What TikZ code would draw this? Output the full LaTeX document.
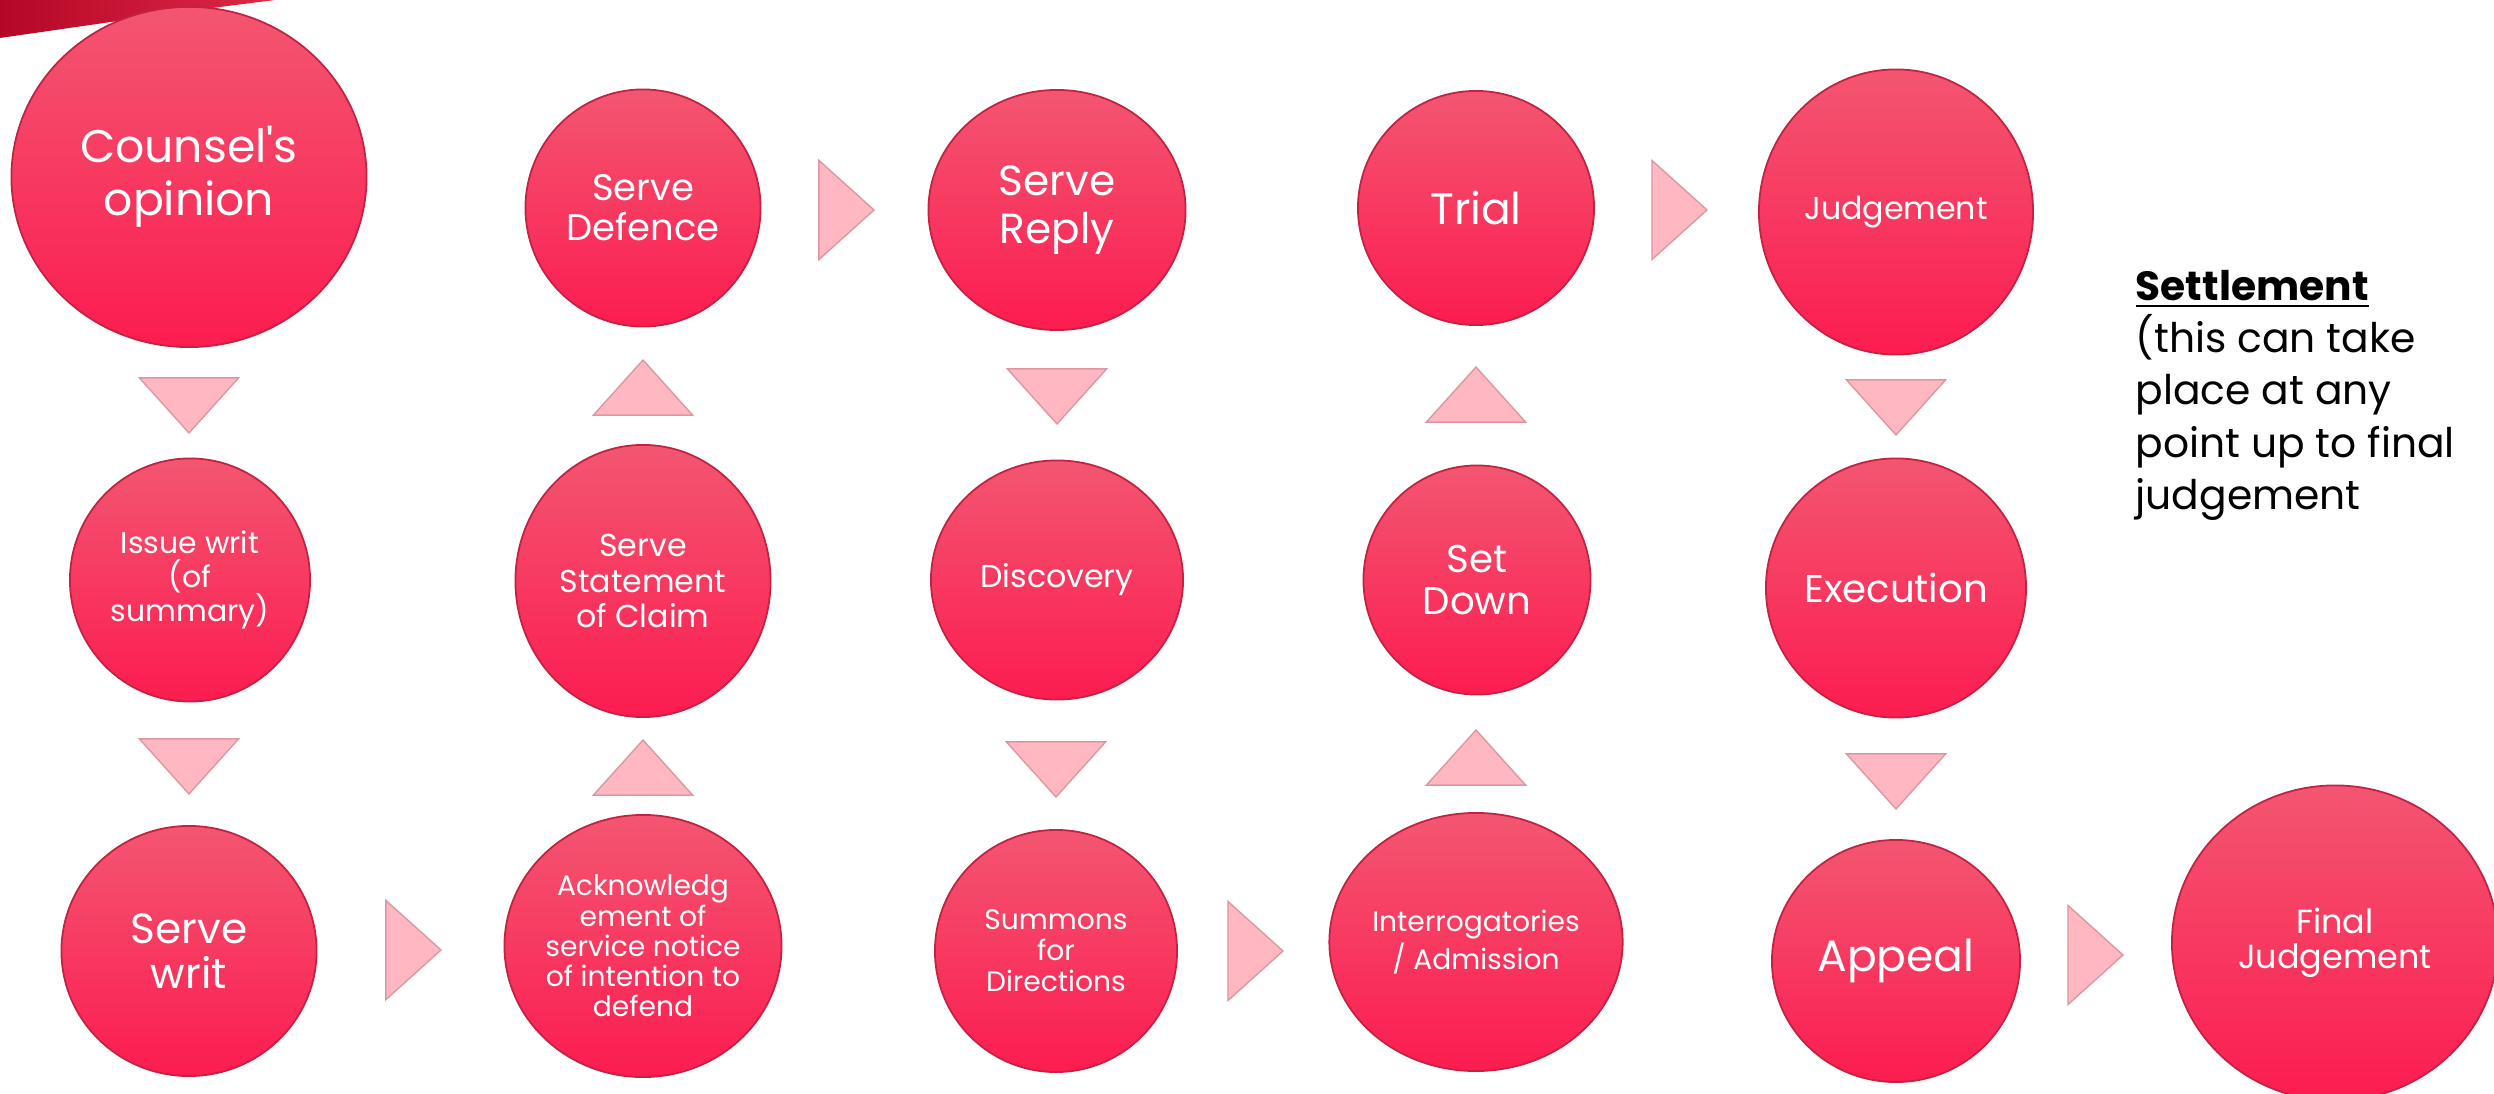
\documentclass[tikz,border=0pt]{standalone}
\usepackage{fontspec}
\newfontfamily\gothic{Poppins}
\usetikzlibrary{shapes.geometric}

\definecolor{stagetop}{RGB}{243,86,112}
\definecolor{stagebottom}{RGB}{252,28,80}
\definecolor{stagerim}{RGB}{196,34,66}
\definecolor{pointerfill}{RGB}{255,184,193}
\definecolor{pointerrim}{RGB}{222,150,160}
\definecolor{streakdark}{RGB}{180,8,38}
\definecolor{streaklight}{RGB}{222,40,72}

\begin{document}
\begin{tikzpicture}[x=0.01cm, y=-0.01cm,
  stage/.style={ellipse, top color=stagetop, bottom color=stagebottom, draw=stagerim, line width=0.5pt, text=white, align=center, inner sep=0pt},
  pointer/.style={isosceles triangle, isosceles triangle apex angle=84, fill=pointerfill, draw=pointerrim, line width=0.4pt, inner sep=0pt, minimum height=0.55cm}]

\useasboundingbox (0,0) rectangle (2494,1094);

% brush stroke in the corner

\shade[left color=streakdark, right color=streaklight] (0,0) -- (275,0) .. controls (180,12) .. (0,38) -- cycle;

% the stages

\node[stage, minimum width=3.55cm, minimum height=3.40cm, font=\gothic\fontsize{13}{15}\selectfont] (opinion) at (189,177) {Counsel's\\opinion};
\node[stage, minimum width=2.40cm, minimum height=2.43cm, font=\gothic\fontsize{8.5}{9.7}\selectfont] (issue) at (190,580) {Issue writ\\(of\\summary)};
\node[stage, minimum width=2.55cm, minimum height=2.50cm, font=\gothic\fontsize{12}{13}\selectfont] (servewrit) at (189,951) {Serve\\writ};

\node[stage, minimum width=2.77cm, minimum height=2.62cm, font=\gothic\fontsize{8}{8.6}\selectfont] (ack) at (643,946) {Acknowledg\\ement of\\service notice\\of intention to\\defend};
\node[stage, minimum width=2.55cm, minimum height=2.72cm, font=\gothic\fontsize{9}{10.2}\selectfont] (claim) at (643,581) {Serve\\Statement\\of Claim};
\node[stage, minimum width=2.35cm, minimum height=2.37cm, font=\gothic\fontsize{10.5}{11.3}\selectfont] (defence) at (643,208) {Serve\\Defence};

\node[stage, minimum width=2.57cm, minimum height=2.40cm, font=\gothic\fontsize{12}{13.5}\selectfont] (reply) at (1057,210) {Serve\\Reply};
\node[stage, minimum width=2.52cm, minimum height=2.39cm, font=\gothic\fontsize{9}{10.5}\selectfont] (discovery) at (1057,580) {Discovery};
\node[stage, minimum width=2.42cm, minimum height=2.42cm, font=\gothic\fontsize{8}{8.8}\selectfont] (summons) at (1056,951) {Summons\\for\\Directions};

\node[stage, minimum width=2.88cm, minimum height=2.58cm, font=\gothic\fontsize{8}{8.8}\selectfont] (interrog) at (1476,942) {Interrogatories\\/ Admission};
\node[stage, minimum width=2.27cm, minimum height=2.29cm, font=\gothic\fontsize{11}{11.7}\selectfont] (setdown) at (1477,580) {Set\\Down};
\node[stage, minimum width=2.36cm, minimum height=2.34cm, font=\gothic\fontsize{12.5}{13}\selectfont] (trial) at (1476,208) {Trial};

\node[stage, minimum width=2.74cm, minimum height=2.85cm, font=\gothic\fontsize{9}{10.5}\selectfont] (judgement) at (1896,212) {Judgement};
\node[stage, minimum width=2.60cm, minimum height=2.59cm, font=\gothic\fontsize{11}{12}\selectfont] (execution) at (1896,588) {Execution};
\node[stage, minimum width=2.48cm, minimum height=2.42cm, font=\gothic\fontsize{12.5}{14}\selectfont] (appeal) at (1896,961) {Appeal};

\node[stage, minimum width=3.26cm, minimum height=3.15cm, font=\gothic\fontsize{9.5}{10}\selectfont] (final) at (2335,943) {Final\\Judgement};

% the pointers between stages

\node[pointer, shape border rotate=270] (p1) at (189,400) {};
\node[pointer, shape border rotate=270] (p2) at (189,761) {};
\node[pointer] (p3) at (408,950) {};
\node[pointer, shape border rotate=90] (p4) at (643,773) {};
\node[pointer, shape border rotate=90] (p5) at (643,393) {};
\node[pointer] (p6) at (841,210) {};
\node[pointer, shape border rotate=270] (p7) at (1057,391) {};
\node[pointer, shape border rotate=270] (p8) at (1056,764) {};
\node[pointer] (p9) at (1250,951) {};
\node[pointer, shape border rotate=90] (p10) at (1476,763) {};
\node[pointer, shape border rotate=90] (p11) at (1476,400) {};
\node[pointer] (p12) at (1674,210) {};
\node[pointer, shape border rotate=270] (p13) at (1896,402) {};
\node[pointer, shape border rotate=270] (p14) at (1896,776) {};
\node[pointer] (p15) at (2090,955) {};

% side note

\node[anchor=north west, align=left, inner sep=0pt, font=\gothic\fontsize{11.6}{14.8}\selectfont] (settlement) at (2135,270) {\textbf{\underline{Settlement}}\\(this can take\\place at any\\point up to final\\judgement};

\end{tikzpicture}
\end{document}
